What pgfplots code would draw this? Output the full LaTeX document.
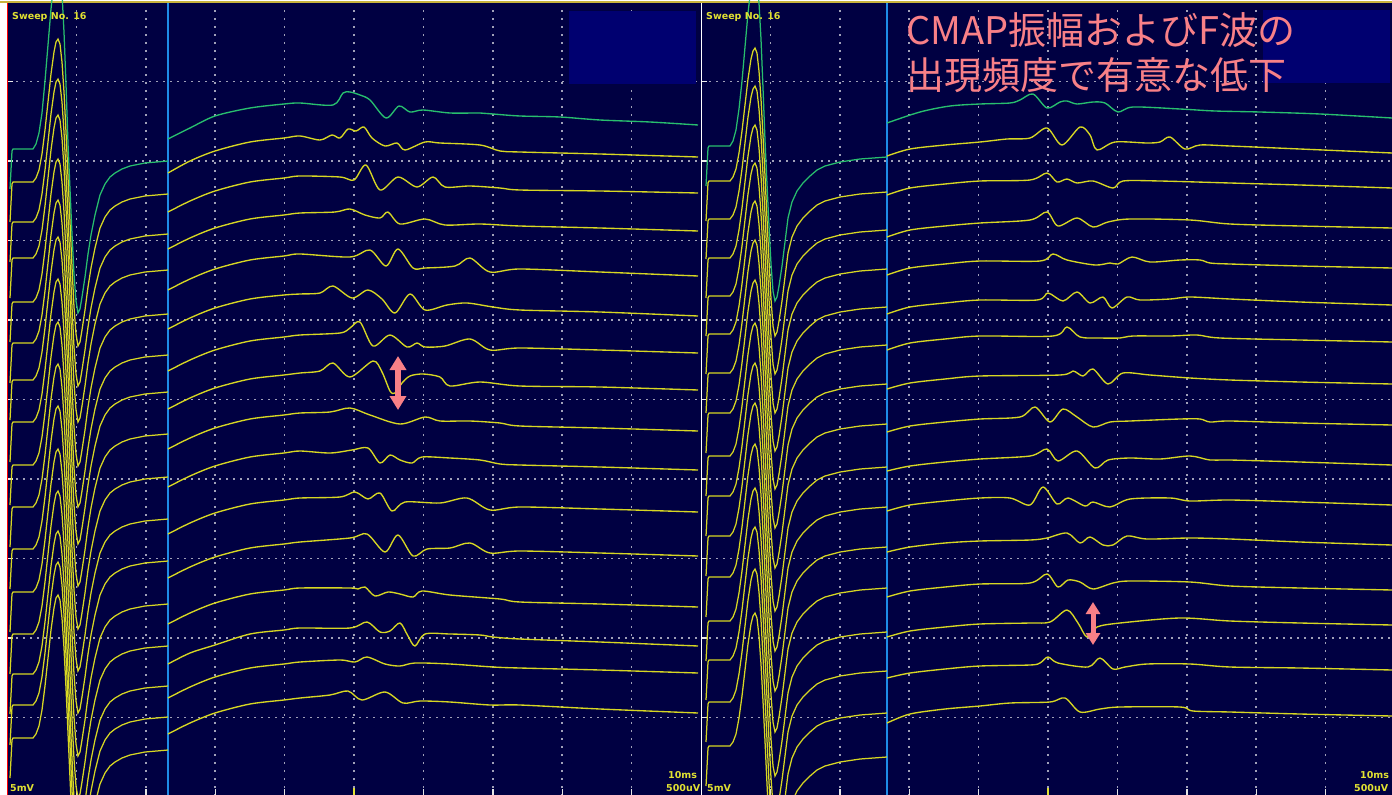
\documentclass[border=0pt]{standalone}
\usepackage{pgfplots}
\pgfplotsset{compat=1.18}
\usepackage{pgfplotstable}
\usepackage{fontspec}
\usetikzlibrary{arrows.meta}
\setmainfont{DejaVu Sans}
\newfontfamily\jp{Noto Sans CJK JP}
\definecolor{bg}{RGB}{0,0,66}
\definecolor{boxc}{RGB}{0,0,112}
\definecolor{ylw}{RGB}{215,215,35}
\definecolor{grn}{RGB}{40,190,110}
\definecolor{gridc}{RGB}{160,160,185}
\definecolor{sepb}{RGB}{30,140,230}
\definecolor{pk}{RGB}{248,128,135}
\definecolor{lab}{RGB}{225,225,50}
\definecolor{gold}{RGB}{200,180,60}

% CMAP template, left panel (offset from plateau, pixels, down positive)
\pgfplotstableread{
x d g
10 40 40
12 2 2
13 0 0
33 0 0
36 -4 -5
39 -12 -16
42 -28 -36
45 -52 -68
48 -80 -104
51 -108 -140
54 -130 -169
56 -140 -182
58 -143 -186
60 -138 -179
62 -120 -156
64 -90 -117
66 -50 -65
68 -5 -6
70 40 40
72 85 85
74 125 125
76 152 152
78 164 164
80 160 160
82 148 148
85 128 128
88 105 105
91 86 86
95 66 66
100 46 46
105 35 35
110 28 28
115 24 24
122 20 20
130 17 17
145 14 14
168 12 12
}\cmapL

% CMAP template, right panel
\pgfplotstableread{
x d g
706 40 40
708 2 2
709 0 0
730 0 0
733 -4 -5
736 -12 -16
739 -28 -37
742 -50 -65
745 -76 -99
748 -102 -133
751 -122 -159
753 -130 -169
755 -133 -173
757 -128 -166
759 -110 -143
761 -82 -107
763 -45 -58
765 -5 -6
767 38 38
769 80 80
771 118 118
773 145 145
775 155 155
777 151 151
779 140 140
782 120 120
785 96 96
788 72 72
792 56 56
797 45 45
803 37 37
810 30 30
817 24 24
825 20 20
840 16 16
860 13 13
887 11 11
}\cmapR

\begin{document}
\begin{tikzpicture}
\useasboundingbox (0,0) rectangle (1392pt,795pt);
\clip (0,0) rectangle (1392pt,795pt);
\fill[white] (0,0) rectangle (1392pt,795pt);
\fill[bg] (7pt,0) rectangle (1392pt,792pt);
\begin{axis}[
  at={(0,0)}, anchor=south west,
  width=1392pt, height=795pt, scale only axis,
  xmin=0, xmax=1392, ymin=0, ymax=795, y dir=reverse,
  hide axis, clip=true,
  cm/.style={ylw, line width=1.25pt, mark=none},
  tr/.style={ylw, line width=1.35pt, mark=none, smooth, tension=0.5},
]
% grid
\pgfplotsinvokeforeach{81.5,161,240.5,320,399.5,479,558.5,638,717.5}{
  \draw[gridc, line width=1.5pt, dash pattern=on 1.5pt off 5.5pt] (axis cs:9,#1) -- (axis cs:1392,#1);
  \draw[white!85!gray, line width=1.5pt] (axis cs:8,#1) -- (axis cs:13,#1);
  \draw[white!85!gray, line width=1.5pt] (axis cs:702,#1) -- (axis cs:707,#1);
}
\pgfplotsinvokeforeach{76.4,145.8,215.2,284.6,354,423.4,492.8,562.2,631.6,770.4,839.8,909.2,978.6,1048,1117.4,1186.8,1256.2,1325.6}{
  \draw[gridc, line width=1.5pt, dash pattern=on 1.5pt off 6.5pt] (axis cs:#1,10) -- (axis cs:#1,795);
  \draw[white!80!gray, line width=1.4pt] (axis cs:#1,789) -- (axis cs:#1,795);
}
\draw[lab, line width=2pt] (axis cs:354,788) -- (axis cs:354,795);
\draw[lab, line width=2pt] (axis cs:1048,788) -- (axis cs:1048,795);
% dark boxes
\fill[boxc] (axis cs:569,11) rectangle (axis cs:696,84);
\fill[boxc] (axis cs:1263,10) rectangle (axis cs:1390,83);
% separators
\draw[sepb, line width=1.3pt] (axis cs:168,3) -- (axis cs:168,795);
\draw[sepb, line width=1.3pt] (axis cs:887,3) -- (axis cs:887,795);
\draw[white, line width=1.3pt] (axis cs:701.5,3) -- (axis cs:701.5,795);
\draw[red, line width=1.6pt] (axis cs:7.6,2) -- (axis cs:7.6,795);
\draw[gold, line width=2pt] (axis cs:0,2) -- (axis cs:1392,2);

% ---------------- CMAP traces ----------------
\addplot[grn, line width=1.25pt, mark=none] table[x=x, y expr=\thisrow{g}+149] {\cmapL};
\pgfplotsinvokeforeach{182,222,258,302,343,380,422,465,507,549,592,634,674,705,738}{
  \addplot[cm] table[x=x, y expr=\thisrow{d}+#1] {\cmapL};
}
\addplot[grn, line width=1.25pt, mark=none] table[x=x, y expr=\thisrow{g}+146] {\cmapR};
\pgfplotsinvokeforeach{181,219,258,296,334,373,413,456,496,536,577,621,660,702,746}{
  \addplot[cm] table[x=x, y expr=\thisrow{d}+#1] {\cmapR};
}

% ---------------- Left F-wave traces ----------------
\addplot[tr, grn] coordinates {(168,139) (190,128) (215,116) (250,108) (284,104) (300,103) (333,105) (343,93) (350,92) (360,95) (370,100) (386,118) (399,106) (410,112) (423,110) (450,113) (480,113) (493,114) (520,116) (560,117) (600,120) (650,122) (698,125)};
\addplot[tr] coordinates {(168,173) (190,161) (215,151) (250,142) (284,138) (300,136) (320,140) (332,135) (340,138) (348,129) (356,131) (364,127) (372,138) (385,146) (397,143) (405,150) (425,142) (440,143) (480,145) (500,151) (520,152) (600,154) (698,157)};
\addplot[tr] coordinates {(168,212) (190,201) (215,191) (250,182) (284,178) (300,176) (340,177) (354,180) (366,165) (380,190) (398,177) (417,187) (433,177) (445,187) (470,186) (500,188) (520,190) (600,191) (698,193)};
\addplot[tr] coordinates {(168,249) (190,238) (215,228) (250,219) (284,215) (300,213) (335,212) (350,209) (365,215) (380,218) (388,212) (400,224) (425,219) (445,225) (480,224) (520,226) (600,228) (698,231)};
\addplot[tr] coordinates {(168,290) (190,279) (215,269) (250,260) (284,256) (300,254) (350,257) (370,250) (386,266) (398,249) (413,268) (425,268) (455,266) (470,258) (490,272) (520,269) (600,272) (698,276)};
\addplot[tr] coordinates {(168,329) (190,318) (215,308) (250,299) (284,295) (300,294) (320,293) (333,286) (352,298) (368,290) (382,299) (395,313) (410,294) (425,310) (447,305) (467,303) (493,307) (520,310) (600,312) (698,316)};
\addplot[tr] coordinates {(168,371) (190,360) (215,350) (250,341) (284,337) (300,335) (340,333) (350,328) (360,322) (373,346) (390,335) (407,347) (417,343) (425,347) (445,346) (470,339) (490,350) (520,348) (600,350) (698,353)};
\addplot[tr] coordinates {(168,409) (190,398) (215,388) (250,379) (284,375) (300,373) (320,371) (333,363) (350,377) (373,361) (382,372) (390,391) (395,393) (402,383) (410,376) (423,374) (440,377) (450,386) (480,382) (520,386) (600,387) (698,390)};
\addplot[tr] coordinates {(168,449) (190,438) (215,428) (250,419) (284,415) (300,413) (330,412) (350,408) (370,415) (400,424) (425,417) (440,421) (470,421) (500,423) (520,426) (600,428) (698,431)};
\addplot[tr] coordinates {(168,487) (190,476) (215,466) (250,457) (284,453) (300,451) (330,453) (352,450) (368,448) (380,463) (390,455) (400,460) (412,463) (422,457) (450,458) (480,460) (500,464) (520,465) (600,467) (698,470)};
\addplot[tr] coordinates {(168,534) (190,523) (215,513) (250,504) (284,500) (300,498) (340,497) (355,492) (368,499) (380,493) (392,511) (405,502) (440,503) (467,498) (490,510) (520,507) (600,509) (698,512)};
\addplot[tr] coordinates {(168,578) (190,567) (215,557) (250,548) (284,544) (300,542) (350,538) (367,534) (385,552) (398,535) (413,556) (427,549) (450,548) (470,543) (490,553) (520,551) (600,553) (698,556)};
\addplot[tr] coordinates {(168,624) (190,613) (215,603) (250,594) (284,590) (300,588) (350,588) (358,589) (365,587) (375,596) (388,592) (400,594) (413,597) (422,591) (450,595) (500,599) (520,602) (600,604) (698,607)};
\addplot[tr] coordinates {(168,664) (190,653) (215,645) (250,634) (284,630) (300,628) (350,628) (367,622) (380,632) (390,631) (400,623) (408,636) (415,646) (425,634) (450,634) (480,635) (493,637) (520,639) (600,642) (698,646)};
\addplot[tr] coordinates {(168,698) (190,687) (215,677) (250,668) (284,664) (300,662) (340,660) (355,662) (367,657) (385,664) (400,666) (415,663) (450,664) (493,667) (520,668) (600,670) (698,673)};
\addplot[tr] coordinates {(168,734) (190,723) (215,713) (250,704) (284,700) (300,698) (330,695) (348,691) (362,700) (385,692) (403,703) (420,701) (450,702) (490,705) (520,705) (600,709) (698,713)};

% ---------------- Right F-wave traces ----------------
\addplot[tr, grn] coordinates {(887,123) (920,112) (950,106) (980,104) (1010,103) (1020,100) (1033,94) (1047,108) (1060,102) (1067,101) (1077,104) (1093,102) (1105,103) (1118,112) (1133,107) (1180,109) (1215,111) (1260,112) (1320,114) (1392,118)};
\addplot[tr] coordinates {(887,156) (910,149) (945,145) (980,142) (1007,139) (1030,138) (1047,128) (1062,145) (1080,127) (1090,135) (1097,150) (1115,142) (1147,143) (1160,142) (1170,137) (1185,149) (1200,145) (1230,146) (1300,149) (1392,153)};
\addplot[tr] coordinates {(887,195) (910,188) (945,184) (980,181) (1030,180) (1047,173) (1057,182) (1067,179) (1077,183) (1093,181) (1113,188) (1123,181) (1160,181) (1230,183) (1300,185) (1392,188)};
\addplot[tr] coordinates {(887,237) (910,230) (945,226) (980,223) (1030,220) (1047,212) (1058,226) (1077,218) (1093,227) (1108,222) (1130,219) (1190,220) (1230,224) (1300,226) (1392,228)};
\addplot[tr] coordinates {(887,275) (910,268) (945,264) (980,261) (1040,261) (1053,254) (1067,260) (1095,265) (1110,263) (1118,264) (1132,257) (1150,262) (1180,260) (1200,260) (1210,263) (1230,264) (1300,266) (1392,268)};
\addplot[tr] coordinates {(887,314) (910,307) (945,303) (980,300) (1037,300) (1048,293) (1063,301) (1077,292) (1090,303) (1103,297) (1112,308) (1127,297) (1140,300) (1170,299) (1190,297) (1230,299) (1300,302) (1392,305)};
\addplot[tr] coordinates {(887,350) (910,343) (945,339) (980,336) (1053,336) (1067,327) (1080,337) (1100,338) (1120,338) (1133,336) (1170,336) (1197,335) (1220,338) (1300,340) (1392,342)};
\addplot[tr] coordinates {(887,389) (910,383) (945,379) (980,376) (1060,375) (1073,371) (1083,376) (1093,369) (1108,384) (1123,373) (1150,375) (1190,378) (1230,380) (1300,382) (1392,384)};
\addplot[tr] coordinates {(887,432) (910,426) (945,422) (980,419) (1020,417) (1035,407) (1050,422) (1063,409) (1077,417) (1093,427) (1110,422) (1130,421) (1180,419) (1200,419) (1210,422) (1230,421) (1300,423) (1392,425)};
\addplot[tr] coordinates {(887,471) (910,466) (945,462) (980,459) (1030,456) (1047,449) (1058,461) (1077,451) (1095,468) (1108,460) (1130,458) (1160,459) (1190,456) (1210,460) (1230,460) (1300,462) (1392,465)};
\addplot[tr] coordinates {(887,511) (910,505) (945,501) (980,498) (1010,498) (1030,505) (1043,487) (1057,504) (1068,498) (1085,506) (1093,502) (1110,507) (1130,499) (1170,498) (1190,501) (1230,500) (1300,502) (1392,505)};
\addplot[tr] coordinates {(887,552) (910,547) (945,543) (980,541) (1030,540) (1047,538) (1067,533) (1080,543) (1090,537) (1103,545) (1113,545) (1127,536) (1147,539) (1190,538) (1230,539) (1300,542) (1392,545)};
\addplot[tr] coordinates {(887,597) (910,591) (945,587) (980,584) (1030,583) (1047,574) (1058,587) (1068,580) (1080,582) (1093,589) (1113,583) (1130,581) (1190,582) (1230,586) (1300,588) (1392,590)};
\addplot[tr] coordinates {(887,637) (910,631) (945,627) (980,624) (1030,623) (1050,622) (1067,610) (1078,623) (1087,637) (1097,627) (1120,623) (1180,618) (1230,621) (1300,623) (1392,625)};
\addplot[tr] coordinates {(887,678) (910,673) (945,669) (980,666) (1030,665) (1040,663) (1048,657) (1058,663) (1088,667) (1100,658) (1113,669) (1125,667) (1147,664) (1190,664) (1230,667) (1300,668) (1392,670)};
\addplot[tr] coordinates {(887,723) (910,714) (945,709) (980,706) (1010,703) (1050,702) (1065,698) (1080,712) (1100,709) (1120,707) (1180,707) (1193,711) (1230,712) (1300,714) (1392,716)};

% ---------------- arrows ----------------
\addplot[pk, line width=5.5pt, mark=none, {Triangle[width=16pt,length=14pt]}-{Triangle[width=16pt,length=14pt]}] coordinates {(398,356) (398,410)};
\addplot[pk, line width=5pt, mark=none, {Triangle[width=14pt,length=12pt]}-{Triangle[width=14pt,length=12pt]}] coordinates {(1093,602) (1093,645)};

% ---------------- texts ----------------
\node[anchor=base west, inner sep=0, text=lab, font=\bfseries\fontsize{9.5pt}{11pt}\selectfont] at (axis cs:12,19.5) {Sweep No. 16};
\node[anchor=base west, inner sep=0, text=lab, font=\bfseries\fontsize{9.5pt}{11pt}\selectfont] at (axis cs:706,19.5) {Sweep No. 16};
\node[anchor=base west, inner sep=0, text=lab, font=\bfseries\fontsize{9.5pt}{11pt}\selectfont] at (axis cs:10,791) {5mV};
\node[anchor=base west, inner sep=0, text=lab, font=\bfseries\fontsize{9.5pt}{11pt}\selectfont] at (axis cs:707,791) {5mV};
\node[anchor=base west, inner sep=0, text=lab, font=\bfseries\fontsize{9.5pt}{11pt}\selectfont] at (axis cs:668,778) {10ms};
\node[anchor=base west, inner sep=0, text=lab, font=\bfseries\fontsize{9.5pt}{11pt}\selectfont] at (axis cs:666,791) {500uV};
\node[anchor=base west, inner sep=0, text=lab, font=\bfseries\fontsize{9.5pt}{11pt}\selectfont] at (axis cs:1360,778) {10ms};
\node[anchor=base west, inner sep=0, text=lab, font=\bfseries\fontsize{9.5pt}{11pt}\selectfont] at (axis cs:1354,791) {500uV};
\node[anchor=base west, inner sep=0, text=pk, font=\jp\fontsize{38pt}{44pt}\selectfont] at (axis cs:906,44) {CMAP振幅およびF波の};
\node[anchor=base west, inner sep=0, text=pk, font=\jp\fontsize{38pt}{44pt}\selectfont] at (axis cs:906,89) {出現頻度で有意な低下};
\end{axis}
\end{tikzpicture}
\end{document}
